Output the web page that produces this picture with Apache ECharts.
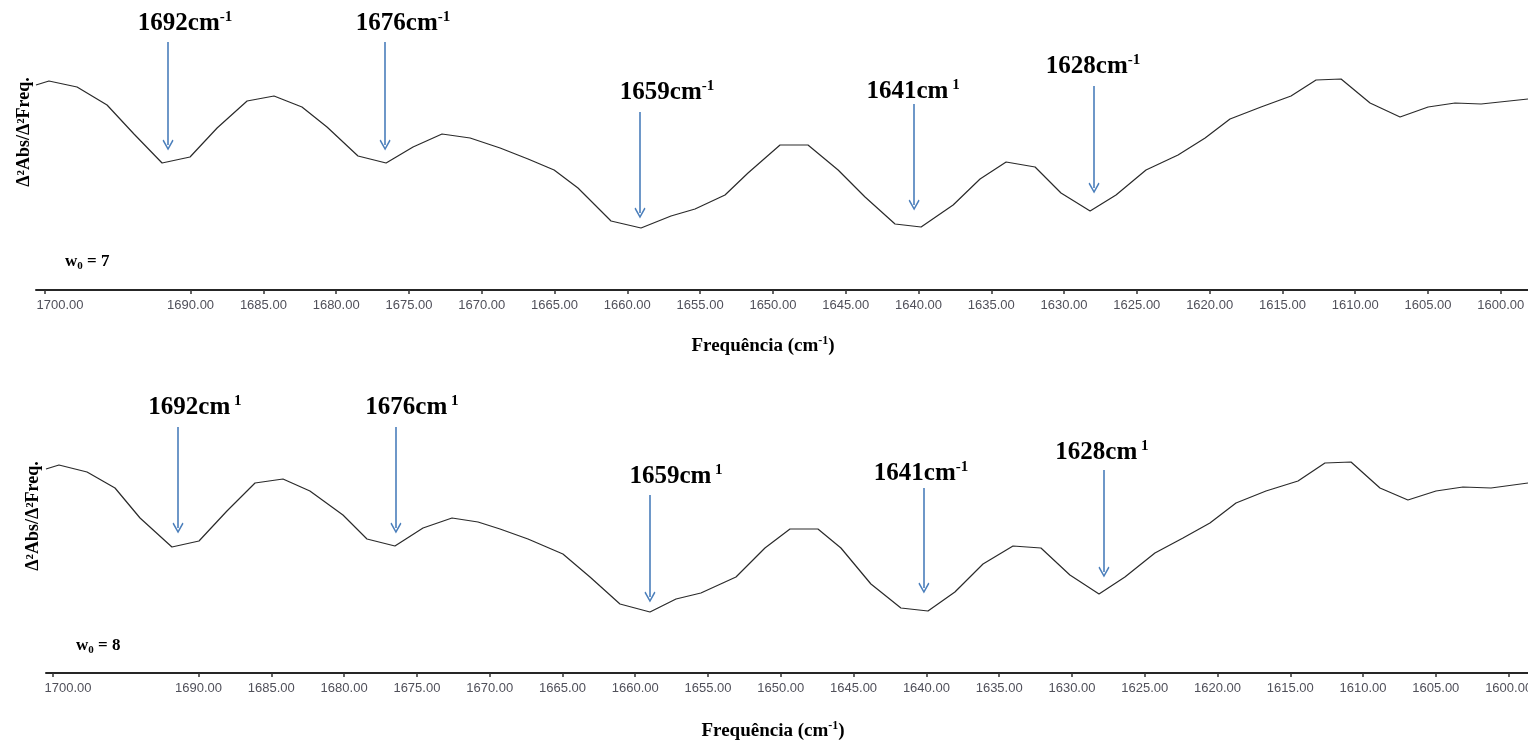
<!DOCTYPE html>
<html>
<head>
<meta charset="utf-8">
<title>Δ²Abs/Δ²Freq.</title>
<script src="https://cdn.jsdelivr.net/npm/echarts@6.0.0/dist/echarts.min.js"></script>
<style>
  html, body { margin: 0; padding: 0; background: #fff; }
  #chart { width: 1528px; height: 741px; }
</style>
</head>
<body>
<div id="chart"></div>
<script>
// painel superior: w0 = 7
var freqW7 = [1700.62, 1699.73, 1697.80, 1695.74, 1693.89, 1691.96, 1690.04, 1688.18, 1686.12, 1684.27,
  1682.35, 1680.63, 1678.50, 1676.57, 1674.72, 1672.73, 1670.80, 1668.74, 1666.82, 1665.03,
  1663.39, 1661.12, 1659.06, 1657.00, 1655.35, 1653.29, 1651.71, 1649.51, 1647.59, 1645.52,
  1643.67, 1641.61, 1639.82, 1637.62, 1635.77, 1633.98, 1631.99, 1630.21, 1628.21, 1626.43,
  1624.37, 1622.17, 1620.31, 1618.60, 1616.47, 1614.41, 1612.69, 1610.97, 1608.98, 1606.92,
  1604.99, 1603.14, 1601.35, 1598.13];
var derivW7 = [2.05, 2.09, 2.03, 1.85, 1.56, 1.27, 1.33, 1.62, 1.89, 1.94,
  1.83, 1.63, 1.34, 1.27, 1.43, 1.56, 1.52, 1.42, 1.31, 1.20,
  1.02, 0.69, 0.62, 0.74, 0.81, 0.95, 1.17, 1.45, 1.45, 1.20,
  0.93, 0.66, 0.63, 0.85, 1.11, 1.28, 1.23, 0.97, 0.79, 0.95,
  1.20, 1.35, 1.52, 1.71, 1.83, 1.94, 2.10, 2.11, 1.87, 1.73,
  1.83, 1.87, 1.86, 1.91];

// painel inferior: w0 = 8
var freqW8 = [1700.48, 1699.59, 1697.66, 1695.74, 1694.02, 1691.83, 1689.97, 1688.05, 1686.12, 1684.20,
  1682.35, 1680.08, 1678.43, 1676.51, 1674.58, 1672.59, 1670.80, 1669.29, 1667.37, 1664.97,
  1663.11, 1661.05, 1658.99, 1657.20, 1655.49, 1653.08, 1651.09, 1649.37, 1647.45, 1645.87,
  1643.81, 1641.75, 1639.89, 1638.04, 1636.11, 1634.05, 1632.13, 1630.14, 1628.14, 1626.36,
  1624.30, 1622.37, 1620.52, 1618.73, 1616.67, 1614.47, 1612.62, 1610.83, 1608.84, 1606.92,
  1604.99, 1603.14, 1601.21, 1598.67];
var derivW8 = [2.04, 2.08, 2.01, 1.85, 1.55, 1.26, 1.32, 1.62, 1.90, 1.94,
  1.82, 1.58, 1.34, 1.27, 1.45, 1.55, 1.51, 1.44, 1.34, 1.19,
  0.96, 0.69, 0.61, 0.74, 0.80, 0.96, 1.25, 1.44, 1.44, 1.25,
  0.89, 0.65, 0.62, 0.81, 1.09, 1.27, 1.25, 0.98, 0.79, 0.96,
  1.20, 1.35, 1.50, 1.70, 1.82, 1.92, 2.10, 2.11, 1.85, 1.73,
  1.82, 1.86, 1.85, 1.90];

// rotulos do eixo x (1695 nao aparece no original)
var tickValues = [1700, 1690, 1685, 1680, 1675, 1670, 1665, 1660, 1655, 1650, 1645, 1640,
  1635, 1630, 1625, 1620, 1615, 1610, 1605, 1600];

// picos marcados com setas
var peakNames = ['1692', '1676', '1659', '1641', '1628'];
var supW7 = ['-1', '-1', '-1', ' 1', '-1'];
var supW8 = [' 1', ' 1', ' 1', '-1', ' 1'];

var arrowXW7 = [1691.55, 1676.64, 1659.13, 1640.30, 1627.94];
var arrowFromW7 = [2.48, 2.48, 1.78, 1.86, 2.04];
var arrowToW7 = [1.45, 1.45, 0.77, 0.85, 1.02];
var labelXW7 = [1690.38, 1675.41, 1657.27, 1640.37, 1628.01];
var labelYW7 = [2.66, 2.66, 1.97, 1.98, 2.23];

var arrowXW8 = [1691.41, 1676.44, 1658.99, 1640.17, 1627.80];
var arrowFromW8 = [2.46, 2.46, 1.78, 1.85, 2.03];
var arrowToW8 = [1.45, 1.45, 0.76, 0.85, 1.01];
var labelXW8 = [1690.25, 1675.34, 1657.20, 1640.37, 1627.94];
var labelYW8 = [2.65, 2.65, 1.96, 1.99, 2.20];

var SERIF = '"Liberation Serif", "Times New Roman", serif';
var SANS = '"Liberation Sans", Arial, sans-serif';
var arrowHead = 'path://M5,0 L10,8 L9,9 L5,2.4 L1,9 L0,8 Z';

var chart = echarts.init(document.getElementById('chart'));

function xAxisOf(gridIndex, min, max) {
  return {
    type: 'value', gridIndex: gridIndex, inverse: true, min: min, max: max,
    axisLine: { lineStyle: { color: '#262626', width: 2 } },
    axisTick: { customValues: tickValues, length: 4, lineStyle: { color: '#333', width: 1.5 } },
    axisLabel: {
      customValues: tickValues, margin: 9, fontSize: 13, fontFamily: SANS, color: '#50505a',
      formatter: function (v) {
        var s = v.toFixed(2);
        return v === 1700 ? '{first|' + s + '}' : s;
      },
      rich: { first: { fontSize: 13, fontFamily: SANS, color: '#50505a', padding: [0, 0, 0, 30] } }
    },
    splitLine: { show: false }
  };
}

function spectrum(idx, freq, vals, arrowX, arrowFrom, arrowTo, labelX, labelY, sups) {
  return {
    type: 'line', xAxisIndex: idx, yAxisIndex: idx, silent: true,
    symbol: 'none',
    data: freq.map(function (f, i) { return [f, vals[i]]; }),
    lineStyle: { color: '#2a2a2a', width: 1.2 },
    markLine: {
      silent: true, symbol: ['none', arrowHead], symbolSize: 11,
      lineStyle: { color: '#4a7ebb', width: 1.6, type: 'solid' },
      label: { show: false },
      data: arrowX.map(function (x, i) {
        return [{ coord: [x, arrowFrom[i]] }, { coord: [x, arrowTo[i]] }];
      })
    },
    markPoint: {
      silent: true, symbolSize: 0,
      label: {
        show: true, position: 'inside',
        formatter: function (p) {
          return '{m|' + peakNames[p.dataIndex] + 'cm}{s|' + sups[p.dataIndex] + '}';
        },
        rich: {
          m: { fontSize: 25, fontWeight: 'bold', fontFamily: SERIF, color: '#000', lineHeight: 29 },
          s: { fontSize: 15, fontWeight: 'bold', fontFamily: SERIF, color: '#000', lineHeight: 15, verticalAlign: 'top' }
        }
      },
      data: labelX.map(function (x, i) {
        return { name: peakNames[i], coord: [x, labelY[i]] };
      })
    }
  };
}

var titleRich = {
  t: { fontSize: 19, fontWeight: 'bold', fontFamily: SERIF, color: '#000', lineHeight: 23 },
  s: { fontSize: 12, fontWeight: 'bold', fontFamily: SERIF, color: '#000', lineHeight: 12, verticalAlign: 'top' },
  w: { fontSize: 17, fontWeight: 'bold', fontFamily: SERIF, color: '#000', lineHeight: 20 },
  z: { fontSize: 11, fontWeight: 'bold', fontFamily: SERIF, color: '#000', lineHeight: 11, verticalAlign: 'bottom' }
};

var option = {
  backgroundColor: '#fff',
  animation: false,
  grid: [
    { left: 36, width: 1492, top: 0, height: 290, outerBoundsMode: 'none' },
    { left: 46, width: 1482, top: 383, height: 290, outerBoundsMode: 'none' }
  ],
  xAxis: [
    xAxisOf(0, 1598.13, 1700.62),
    xAxisOf(1, 1598.67, 1700.48)
  ],
  yAxis: [
    { type: 'value', gridIndex: 0, min: 0, max: 2.9, show: false },
    { type: 'value', gridIndex: 1, min: 0, max: 2.9, show: false }
  ],
  title: [
    { text: '{t|Frequência (cm}{s|-1}{t|)}', left: 763, top: 335, textAlign: 'center', padding: 0, textStyle: { rich: titleRich } },
    { text: '{t|Frequência (cm}{s|-1}{t|)}', left: 773, top: 720, textAlign: 'center', padding: 0, textStyle: { rich: titleRich } },
    { text: '{w|w}{z|0}{w| = 7}', left: 65, top: 252, padding: 0, textStyle: { rich: titleRich } },
    { text: '{w|w}{z|0}{w| = 8}', left: 76, top: 636, padding: 0, textStyle: { rich: titleRich } }
  ],
  graphic: [
    { type: 'text', x: 24, y: 132, rotation: Math.PI / 2,
      style: { text: 'Δ²Abs/Δ²Freq.', font: 'bold 18px ' + SERIF, fill: '#000', align: 'center', verticalAlign: 'middle' } },
    { type: 'text', x: 33, y: 516, rotation: Math.PI / 2,
      style: { text: 'Δ²Abs/Δ²Freq.', font: 'bold 18px ' + SERIF, fill: '#000', align: 'center', verticalAlign: 'middle' } }
  ],
  series: [
    spectrum(0, freqW7, derivW7, arrowXW7, arrowFromW7, arrowToW7, labelXW7, labelYW7, supW7),
    spectrum(1, freqW8, derivW8, arrowXW8, arrowFromW8, arrowToW8, labelXW8, labelYW8, supW8)
  ]
};

chart.setOption(option);
</script>
</body>
</html>
